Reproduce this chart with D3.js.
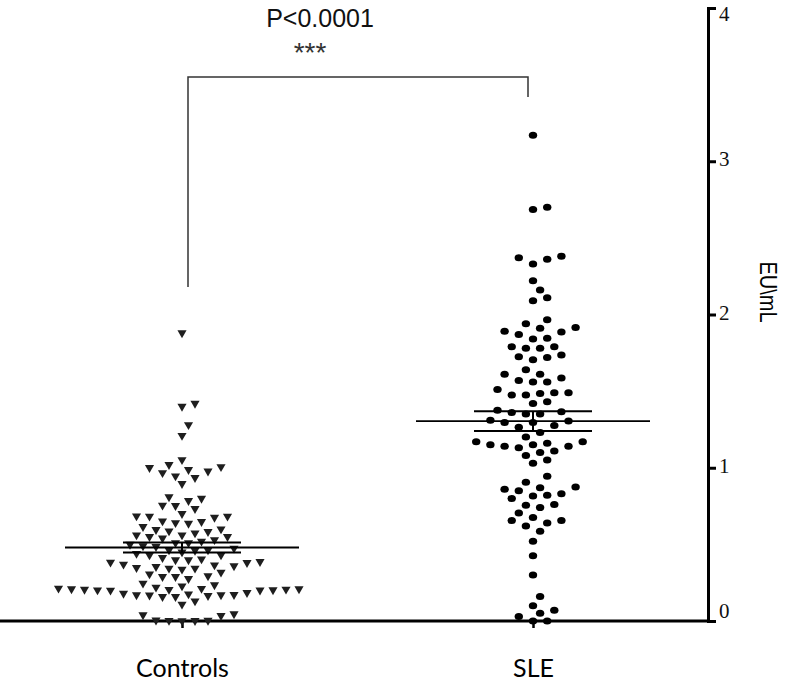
<!DOCTYPE html>
<html>
<head>
<meta charset="utf-8">
<script src="https://cdn.jsdelivr.net/npm/d3@7"></script>
<style>
  html, body { margin: 0; padding: 0; background: #fff; }
  svg { display: block; }
</style>
</head>
<body>
<svg id="chart" width="796" height="688"></svg>
<script>
// ---------------- DATA ----------------
const categories = ["Controls", "SLE"];
const yTickValues = [0, 1, 2, 3, 4];
const yAxisLabel = "EU\\mL";
const pValueText = "P<0.0001";
const starsText = "***";

const controlsValues = [
  1.88, 1.42, 1.40, 1.28, 1.21,
  1.052, 1.02, 1.006, 1.0, 0.987, 0.978, 0.967, 0.946, 0.935, 0.896,
  0.81, 0.80, 0.785, 0.755, 0.752, 0.733,
  0.70, 0.685, 0.683, 0.683, 0.676,
  0.652, 0.648, 0.641, 0.637,
  0.615, 0.60, 0.596, 0.587,
  0.583, 0.574, 0.561, 0.561, 0.55, 0.55,
  0.54, 0.53, 0.52, 0.51, 0.51,
  0.50, 0.49, 0.485, 0.474, 0.463, 0.463, 0.46, 0.45, 0.44, 0.43, 0.43,
  0.413, 0.404, 0.398, 0.398, 0.387, 0.383, 0.381, 0.37, 0.365, 0.359, 0.354, 0.348,
  0.344, 0.344, 0.337, 0.318, 0.306, 0.294, 0.289, 0.289, 0.276,
  0.246, 0.235, 0.228, 0.22, 0.213, 0.212, 0.209, 0.209, 0.207, 0.206, 0.205, 0.203, 0.202, 0.201, 0.20,
  0.185, 0.18, 0.176, 0.172, 0.17, 0.17, 0.168, 0.165, 0.159, 0.159,
  0.13, 0.109,
  0.046, 0.04, 0.035, 0.005, 0.004, 0.003, 0.002, 0.001
];

const sleValues = [
  3.17,
  2.70, 2.685,
  2.38, 2.37, 2.36, 2.33,
  2.22,
  2.16, 2.11, 2.09,
  1.965, 1.94,
  1.915, 1.91, 1.89, 1.885, 1.87, 1.845, 1.84,
  1.79, 1.79, 1.78, 1.78, 1.735, 1.725, 1.72, 1.705,
  1.64, 1.61, 1.61, 1.585, 1.57, 1.56, 1.56,
  1.51, 1.49, 1.49, 1.485, 1.475, 1.475,
  1.43, 1.42,
  1.375, 1.365, 1.36, 1.35, 1.35, 1.31, 1.305, 1.295, 1.295, 1.275, 1.265,
  1.23, 1.20,
  1.17, 1.17, 1.16, 1.15, 1.15, 1.14, 1.14, 1.13,
  1.11, 1.10, 1.08,
  1.05, 1.03,
  0.945, 0.905,
  0.875, 0.87, 0.86, 0.85,
  0.83, 0.82, 0.815, 0.80,
  0.76, 0.755, 0.74, 0.705,
  0.675, 0.655, 0.655, 0.64, 0.62,
  0.585, 0.52,
  0.425,
  0.30,
  0.16, 0.10,
  0.07, 0.05, 0.03, 0.00, 0.00
];

// ---------------- LAYOUT ----------------
const svg = d3.select("#chart");
const axisX = 708, baseY = 621, topY = 8;

const y = d3.scaleLinear().domain([0, 4]).range([baseY, topY]);
const x = d3.scalePoint().domain(categories).range([182, 533]);

// swarm: horizontal slots every colW/2; same slot needs sameGap px vertically,
// neighbouring half-slot needs halfGap px vertically.
const sameGap = 14, halfGap = 7;

function swarm(values, colW) {
  const pts = values.map(v => ({ v, py: y(v) })).sort((a, b) => a.v - b.v);
  const placed = [];
  for (const p of pts) {
    for (let k = 0; k < 400; k++) {
      const m = Math.ceil(k / 2) * 0.5 * (k % 2 === 1 ? 1 : -1);
      const dx = m * colW;
      const ok = placed.every(q => {
        const ddx = Math.abs(q.dx - dx), ddy = Math.abs(q.py - p.py);
        if (ddx < 0.01) return ddy >= sameGap - 0.01;
        if (ddx < colW - 0.01) return ddy >= halfGap - 0.01;
        return true;
      });
      if (ok) { p.dx = dx; placed.push(p); break; }
    }
  }
  return pts;
}

// baseline (x axis line)
svg.append("line")
  .attr("x1", 0).attr("x2", axisX)
  .attr("y1", baseY).attr("y2", baseY)
  .attr("stroke", "#000").attr("stroke-width", 3);

// bottom axis ticks + category labels
const gx = svg.append("g")
  .attr("transform", `translate(0,${baseY})`)
  .call(d3.axisBottom(x).tickSize(7).tickPadding(31));
gx.select(".domain").remove();
gx.selectAll(".tick line").attr("stroke", "#000").attr("stroke-width", 2.5);
gx.selectAll(".tick text")
  .attr("font-family", "Lato, 'Open Sans', sans-serif")
  .attr("font-size", 25).attr("fill", "#000");

// right y axis
const gy = svg.append("g")
  .attr("transform", `translate(${axisX},0)`)
  .call(d3.axisRight(y).tickValues(yTickValues).tickSize(8).tickSizeOuter(8).tickPadding(3)
        .tickFormat(d3.format("d")));
gy.select(".domain").attr("stroke", "#000").attr("stroke-width", 3);
gy.selectAll(".tick line").attr("stroke", "#000").attr("stroke-width", 3);
gy.selectAll(".tick text")
  .attr("font-family", "'Liberation Serif', 'Times New Roman', serif")
  .attr("font-size", 21).attr("fill", "#111")
  .attr("transform", d => `translate(0,${d === 4 ? 6 : d === 0 ? -10 : -2})`);

svg.append("text")
  .attr("transform", `translate(768,292) rotate(90) scale(1,1.2)`)
  .attr("text-anchor", "middle").attr("dy", "0.35em")
  .attr("font-family", "'Liberation Sans', Arial, sans-serif")
  .attr("font-size", 20).attr("fill", "#000")
  .text(yAxisLabel);

// points
const groups = [
  { name: "Controls", values: controlsValues, shape: "tri", colW: 13 },
  { name: "SLE", values: sleValues, shape: "dot", colW: 14.2 }
];

const tri = d3.symbol().type(d3.symbolTriangle).size(36);

groups.forEach(g => {
  const cx = x(g.name);
  const pts = swarm(g.values, g.colW);
  const layer = svg.append("g");
  if (g.shape === "tri") {
    layer.selectAll("path").data(pts).join("path")
      .attr("d", tri)
      .attr("transform", d => `translate(${cx + d.dx},${d.py}) rotate(180)`)
      .attr("fill", "#1e1e1e");
  } else {
    layer.selectAll("ellipse").data(pts).join("ellipse")
      .attr("cx", d => cx + d.dx).attr("cy", d => d.py)
      .attr("rx", 4.2).attr("ry", 3.5)
      .attr("fill", "#000");
  }
  // mean and SEM
  const mean = d3.mean(g.values);
  const sem = d3.deviation(g.values) / Math.sqrt(g.values.length);
  const s = svg.append("g").attr("stroke", "#000");
  s.append("line").attr("x1", cx - 117).attr("x2", cx + 117)
    .attr("y1", y(mean)).attr("y2", y(mean)).attr("stroke-width", 1.8);
  [mean + sem, mean - sem].forEach(v => {
    s.append("line").attr("x1", cx - 59).attr("x2", cx + 59)
      .attr("y1", y(v)).attr("y2", y(v)).attr("stroke-width", 2);
  });
  s.append("line").attr("x1", cx).attr("x2", cx)
    .attr("y1", y(mean + sem)).attr("y2", y(mean - sem)).attr("stroke-width", 2);
});

// significance bracket
const bracketTop = y(3.55);
const leftX = x("Controls") + 6, rightX = x("SLE") - 5;
svg.append("path")
  .attr("d", `M${leftX},${y(2.18)} V${bracketTop} H${rightX} V${y(3.42)}`)
  .attr("fill", "none").attr("stroke", "#333").attr("stroke-width", 1.5);

svg.append("text")
  .attr("x", 320).attr("y", 27).attr("text-anchor", "middle")
  .attr("font-family", "'Liberation Sans', Arial, sans-serif")
  .attr("font-size", 25).attr("fill", "#111")
  .text(pValueText);

svg.append("text")
  .attr("x", 310).attr("y", 62).attr("text-anchor", "middle")
  .attr("font-family", "'Liberation Sans', Arial, sans-serif")
  .attr("font-size", 28).attr("fill", "#333")
  .text(starsText);
</script>
</body>
</html>
